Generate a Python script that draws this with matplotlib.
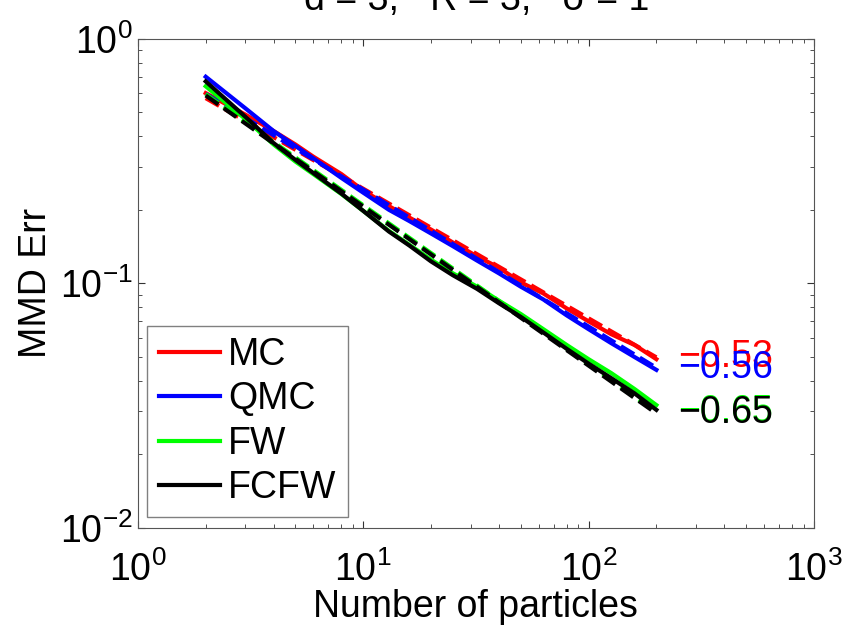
import numpy as np
import matplotlib
matplotlib.use("Agg")
import matplotlib.pyplot as plt

# Number of particles and MMD error for each method
n_particles = [2, 3, 4, 5, 6, 8, 10, 13, 16, 20, 25, 32, 40, 50, 63, 80, 100, 126, 160, 200]
mc_err = [0.60, 0.49, 0.42, 0.37, 0.33, 0.28, 0.24, 0.207, 0.186, 0.166, 0.147, 0.129,
          0.116, 0.101, 0.091, 0.079, 0.070, 0.062, 0.056, 0.049]
qmc_err = [0.70, 0.52, 0.42, 0.365, 0.325, 0.27, 0.235, 0.20, 0.18, 0.16, 0.142, 0.124,
           0.110, 0.097, 0.086, 0.074, 0.065, 0.057, 0.050, 0.0443]
fw_err = [0.64, 0.47, 0.37, 0.315, 0.28, 0.232, 0.198, 0.164, 0.144, 0.125, 0.11, 0.097,
          0.085, 0.075, 0.065, 0.056, 0.049, 0.043, 0.037, 0.0318]
fcfw_err = [0.67, 0.48, 0.375, 0.32, 0.283, 0.233, 0.198, 0.163, 0.143, 0.123, 0.108, 0.095,
            0.083, 0.073, 0.063, 0.054, 0.047, 0.041, 0.0355, 0.0304]

methods = ["MC", "QMC", "FW", "FCFW"]
colors = ["#ff0000", "#0000ff", "#00ff00", "#000000"]
slopes = [-0.53, -0.56, -0.65, -0.65]
errors = [mc_err, qmc_err, fw_err, fcfw_err]

FS = 27

plt.rcParams["font.family"] = ["Liberation Sans", "DejaVu Sans"]
plt.rcParams["mathtext.fontset"] = "custom"
plt.rcParams["mathtext.rm"] = "Liberation Sans"
plt.rcParams["mathtext.default"] = "regular"

fig = plt.figure(figsize=(8.46, 6.27), dpi=100)
ax = fig.add_axes([0.163, 0.158, 0.799, 0.78])

x = np.array(n_particles, dtype=float)
handles = []
for name, col, s, err in zip(methods, colors, slopes, errors):
    y = np.array(err)
    (h,) = ax.plot(x, y, "-", color=col, lw=3, label=name)
    handles.append(h)
    # fitted power law with the given slope
    c = np.mean(np.log10(y) - s * np.log10(x))
    yfit = 10 ** (c + s * np.log10(x))
    ax.plot(x, yfit, "--", color=col, lw=3)
    ax.text(x[-1] * 1.25, yfit[-1], "\u2212%.2f" % abs(s), color=col,
            fontsize=FS, va="center", ha="left")

ax.set_xscale("log")
ax.set_yscale("log")
ax.set_xlim(1, 1000)
ax.set_ylim(0.01, 1)

ax.tick_params(which="both", direction="in", top=True, right=True,
               labelsize=FS, colors="#333333", labelcolor="black")
ax.tick_params(which="major", length=5)
ax.tick_params(which="minor", length=3)
ax.tick_params(axis="x", which="major", pad=17)
ax.tick_params(axis="y", which="major", pad=4)
for sp in ax.spines.values():
    sp.set_color("#555555")

ax.set_xlabel("Number of particles", fontsize=FS, labelpad=0)
ax.set_ylabel("MMD Err", fontsize=FS, labelpad=4)

fig.text(0.563, 1 - 10 / 627, "d = 3,   R = 3,   \u03c3 = 1", fontsize=FS,
         ha="center", va="baseline")

leg = ax.legend(handles=handles, loc="lower left", bbox_to_anchor=(0.014, 0.022),
                fontsize=FS, handlelength=1.65, handletextpad=0.2,
                labelspacing=0.22, borderpad=0.3, borderaxespad=0,
                fancybox=False, framealpha=1)
leg.get_frame().set_edgecolor("#808080")
leg.get_frame().set_linewidth(1)

fig.savefig("out.png", dpi=100)
